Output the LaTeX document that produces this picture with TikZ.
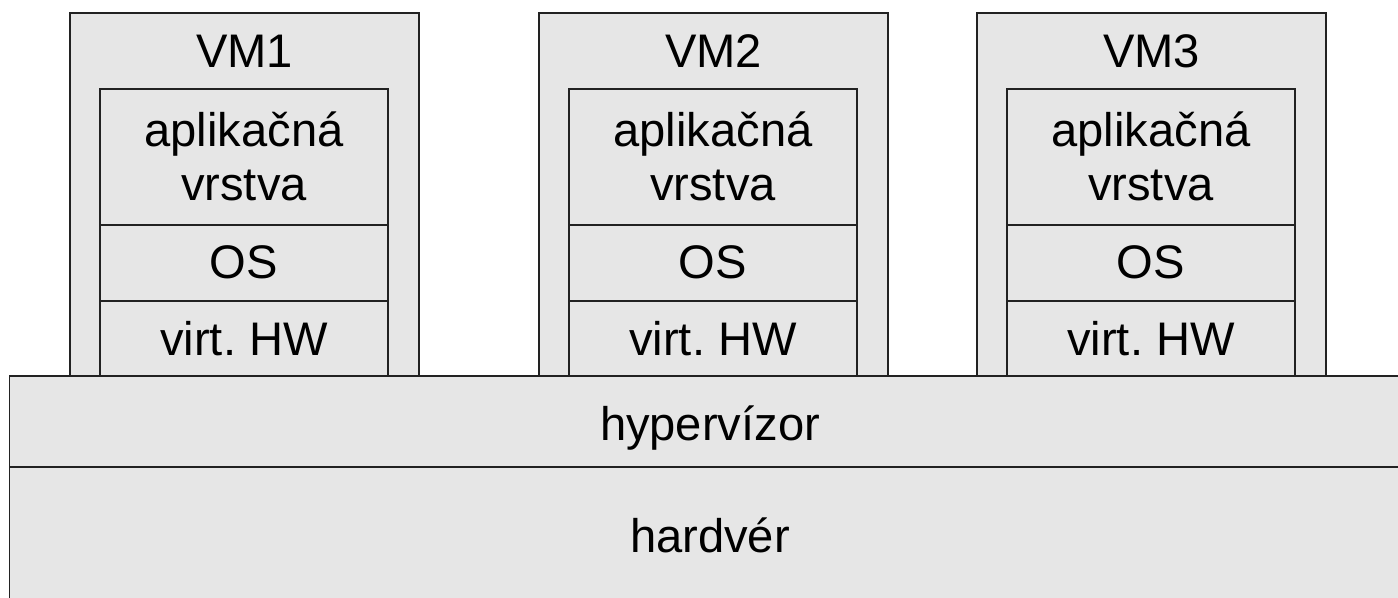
\documentclass[tikz,border=0pt]{standalone}
\usepackage{fontspec}
\setmainfont{Liberation Sans}
\frenchspacing
\definecolor{boxfill}{HTML}{E6E6E6}
\definecolor{boxline}{HTML}{222222}
\tikzset{
  cell/.style={draw=boxline, fill=boxfill, line width=0.4pt, rectangle, inner sep=0pt},
  lbl/.style={anchor=base, inner sep=0pt, align=center, font=\fontsize{13.4pt}{15.1pt}\selectfont}
}
\begin{document}
\begin{tikzpicture}[x=0.01cm, y=-0.01cm]
\useasboundingbox (0,0) rectangle (1398,597);
% virtual machines
\foreach \n/\xl in {1/70, 2/539, 3/977}{
  \node[cell, minimum width=3.49cm, minimum height=3.63cm] (vm\n) at (\xl+174.5,194.5) {};
  \node[lbl] (vmt\n) at (\xl+174.5,67) {VM\n};
  \node[cell, minimum width=2.88cm, minimum height=1.36cm] (app\n) at (\xl+174,157) {};
  \node[cell, minimum width=2.88cm, minimum height=0.76cm] (os\n) at (\xl+174,263) {};
  \node[cell, minimum width=2.88cm, minimum height=0.75cm] (hw\n) at (\xl+174,338.5) {};
  \node[lbl] (appt\n) at (\xl+174,200) {aplikačná\\vrstva};
  \node[lbl] (ost\n) at (\xl+174,278) {OS};
  \node[lbl] (hwt\n) at (\xl+174,355) {virt.\ HW};
}
% hypervisor and hardware
\node[cell, minimum width=14.10cm, minimum height=0.91cm] (hyp) at (715,421.5) {};
\node[cell, minimum width=14.10cm, minimum height=1.40cm] (hard) at (715,537) {};
\node[lbl] (hypt) at (710,440) {hypervízor};
\node[lbl] (hardt) at (710,552) {hardvér};
\end{tikzpicture}
\end{document}
